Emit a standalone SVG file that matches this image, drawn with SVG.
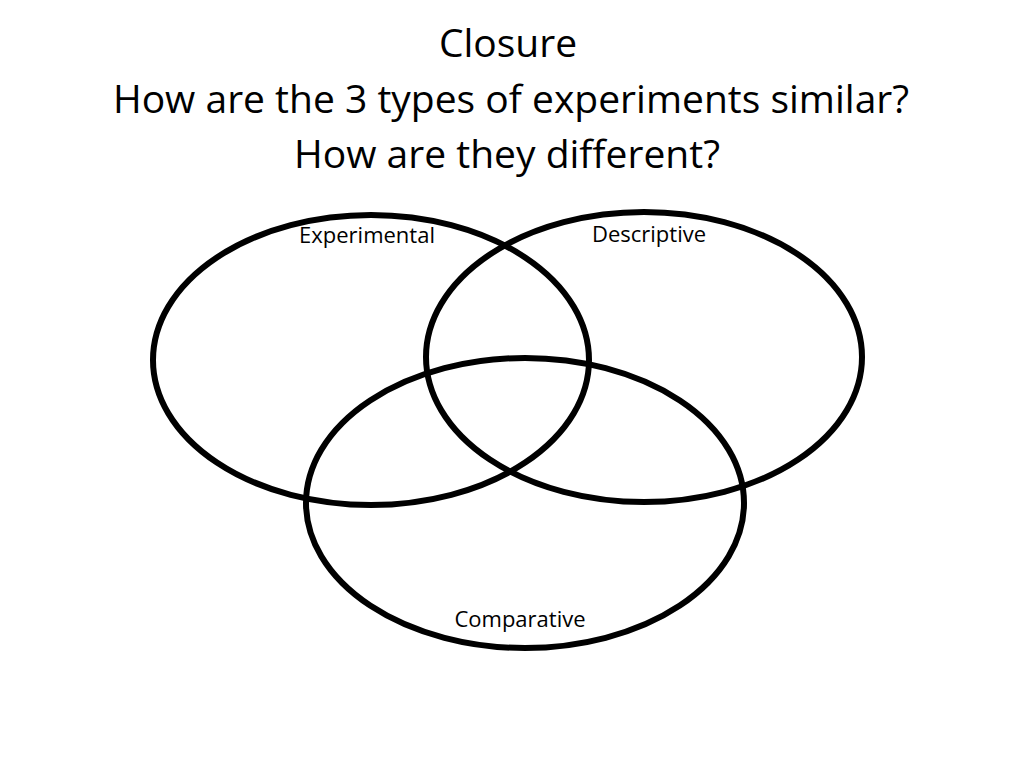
<svg xmlns="http://www.w3.org/2000/svg" width="1024" height="768" viewBox="0 0 1024 768">
<style>
.title{font-family:"Open Sans","Liberation Sans",sans-serif;font-size:39px;fill:#000;text-anchor:middle}
.lbl{font-family:"Open Sans","Liberation Sans",sans-serif;font-size:22px;fill:#000;text-anchor:middle}
.set{fill:none;stroke:#000;stroke-width:6}
</style>
<rect width="1024" height="768" fill="#fff"/>
<g id="title">
<text class="title" x="508" y="57">Closure</text>
<text class="title" x="511" y="113">How are the 3 types of experiments similar?</text>
<text class="title" x="507" y="168">How are they different?</text>
</g>
<g id="experimental">
<ellipse class="set" cx="371" cy="360" rx="218" ry="145"/>
<text class="lbl" x="367" y="243">Experimental</text>
</g>
<g id="descriptive">
<ellipse class="set" cx="644" cy="357" rx="218" ry="145"/>
<text class="lbl" x="649" y="242">Descriptive</text>
</g>
<g id="comparative">
<ellipse class="set" cx="525" cy="503" rx="219" ry="145"/>
<text class="lbl" x="520" y="627">Comparative</text>
</g>
</svg>
